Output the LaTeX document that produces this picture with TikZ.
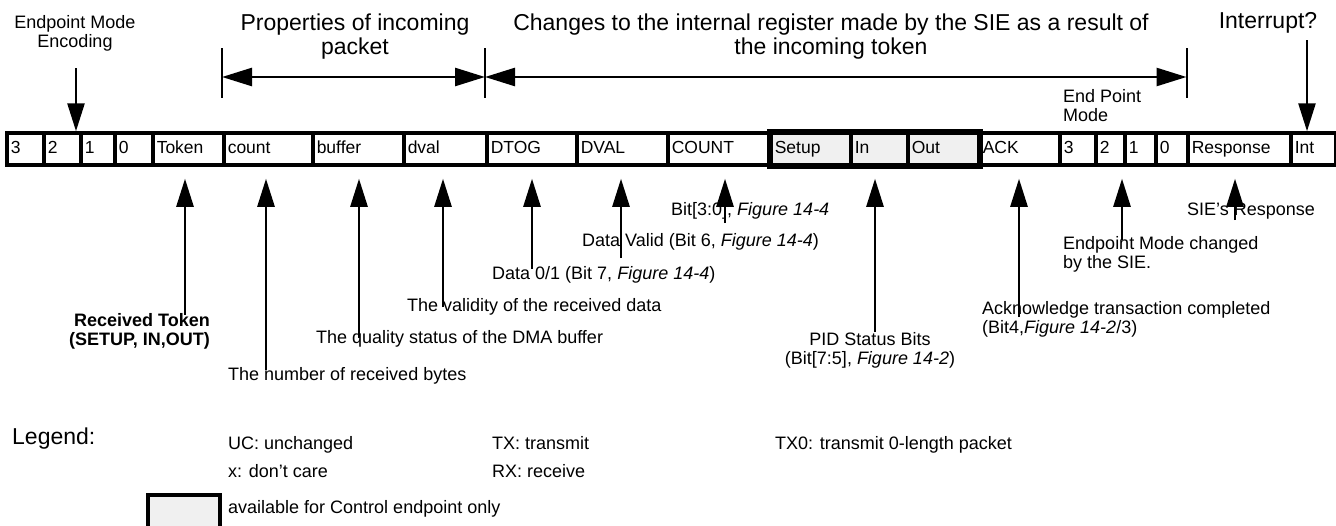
\documentclass[tikz,border=0pt]{standalone}
\usepackage{fontspec}
\setmainfont{Liberation Sans}
\usetikzlibrary{arrows.meta,calc}
\tikzset{
	cell/.style={draw, line width=3.5pt, minimum height=32pt, inner xsep=4pt, inner ysep=0pt, anchor=west, text height=12.5pt, text depth=3.5pt, font=\fontsize{17.5}{18}\selectfont},
	ctrl/.style={cell, fill=black!6},
	lbl/.style={inner sep=0pt, font=\fontsize{18}{19}\selectfont},
	head/.style={inner sep=0pt, align=center, font=\fontsize{23}{24}\selectfont},
	tip/.style={line width=2.6pt, -{Triangle[length=28pt,width=17pt]}},
	span/.style={line width=2.6pt, {Triangle[length=30pt,width=18pt]}-{Triangle[length=30pt,width=18pt]}},
	bar/.style={line width=2pt},
}

\begin{document}
\begin{tikzpicture}[x=1pt, y=-1pt]
		%%%%% START %%%%%
		\useasboundingbox (0,0) rectangle (1336,525);
		
		% register fields
		\foreach \xa/\xb/\txt/\nm in {5/42/3/ma, 42/79/2/mb, 79/113/1/mc, 113/151/0/md, 151/222/Token/tok, 222/311/count/cnt, 311/402/buffer/buf, 402/485/dval/dvl, 485/575/DTOG/dtog, 575/666/DVAL/dvld, 666/769/COUNT/ccnt, 977/1058/ACK/ack, 1058/1094/3/na, 1094/1123/2/nb, 1123/1154/1/nc, 1154/1186/0/nd, 1186/1289/Response/rsp, 1289/1334/Int/int}
		{
			\pgfmathsetmacro\w{\xb-\xa-8}
			\node[cell, text width=\w pt] (\nm) at (\xa,149) {\txt};
		}
		\foreach \xa/\xb/\txt/\nm in {769/849/Setup/setup, 849/906/In/in, 906/977/Out/out}
		{
			\pgfmathsetmacro\w{\xb-\xa-8}
			\node[ctrl, text width=\w pt] (\nm) at (\xa,149) {\txt};
		}
		\draw[line width=4.5pt] (setup.north west) rectangle (out.south east);
		
		% headings
		\node[lbl, align=center] (enc) at (75,33) {Endpoint Mode\\Encoding};
		\node[head] (props) at (355,37) {Properties of incoming\\packet};
		\node[head] (chg) at (831,37) {Changes to the internal register made by the SIE as a result of\\the incoming token};
		\node[head] (irq) at (1268,23) {Interrupt?};
		\node[lbl, align=left, anchor=west] (epm) at (1063,106) {End Point\\Mode};
		
		\coordinate (encTop) at (76,68);
		\draw[tip] (encTop) -- (encTop |- mc.north);
		\coordinate (irqTop) at (1307,40);
		\draw[tip] (irqTop) -- (irqTop |- int.north);
		
		% spans
		\coordinate (pL) at (cnt.north west |- 0,77);
		\coordinate (pR) at (dtog.north west |- 0,77);
		\coordinate (cR) at ($(nd.north east |- 0,77)+(-3,0)$);
		\foreach \c in {pL,pR,cR}
			\draw[bar] (\c) ++(0,-29) -- ++(0,50);
		\draw[span] (pL) -- (pR);
		\draw[span] (pR) -- (cR);
		
		% field descriptions
		\node[lbl, align=right, anchor=east, font=\fontsize{18}{19}\selectfont\bfseries] (rtok) at (210,331) {Received Token\\(SETUP, IN,OUT)};
		\node[lbl, anchor=mid west] (rcnt) at (228,378) {The number of received bytes};
		\node[lbl, anchor=mid west] (rbuf) at (316,341) {The quality status of the DMA buffer};
		\node[lbl, anchor=mid west] (rdvl) at (407,309) {The validity of the received data};
		\node[lbl, anchor=mid west] (rdtog) at (492,277) {Data 0/1 (Bit 7, \textit{Figure 14-4})};
		\node[lbl, anchor=mid west] (rdvld) at (582,244) {Data Valid (Bit 6, \textit{Figure 14-4})};
		\node[lbl, anchor=mid west] (rccnt) at (671,213) {Bit[3:0], \textit{Figure 14-4}};
		\node[lbl, align=center] (rpid) at (870,350) {PID Status Bits\\(Bit[7:5], \textit{Figure 14-2})};
		\node[lbl, align=left, anchor=west] (rack) at (982,319) {Acknowledge transaction completed\\(Bit4,\textit{Figure 14-2}/3)};
		\node[lbl, align=left, anchor=west] (rmode) at (1063,254) {Endpoint Mode changed\\by the SIE.};
		\node[lbl, anchor=mid west] (rrsp) at (1187,213) {SIE’s Response};
		
		\foreach \px/\py/\nm in {185/315/tok, 266/370/cnt, 359/338/buf, 443/307/dvl, 532/269/dtog, 621/258/dvld, 725/223/ccnt, 875/332/in, 1019/317/ack, 1122/240/nb, 1235/220/rsp}
		{
			\coordinate (a\nm) at (\px,\py);
			\draw[tip, shorten >=12pt] (a\nm) -- (a\nm |- \nm.south);
		}
		
		% legend
		\node[lbl, anchor=mid west, font=\fontsize{23}{24}\selectfont] (leg) at (12,442) {Legend:};
		\node[lbl, anchor=mid west] (uc) at (228,447) {UC: unchanged};
		\node[lbl, anchor=mid west] (tx) at (492,447) {TX: transmit};
		\node[lbl, anchor=mid west] (txz) at (775,447) {TX0: transmit 0-length packet};
		\node[lbl, anchor=mid west] (dc) at (228,475) {x: don’t care};
		\node[lbl, anchor=mid west] (rx) at (492,475) {RX: receive};
		\draw[line width=4pt, fill=black!6] (148,495) rectangle (220,532);
		\node[lbl, anchor=mid west] (ctl) at (228,511) {available for Control endpoint only};
		
		%%%%% END %%%%%
\end{tikzpicture}
\end{document}
